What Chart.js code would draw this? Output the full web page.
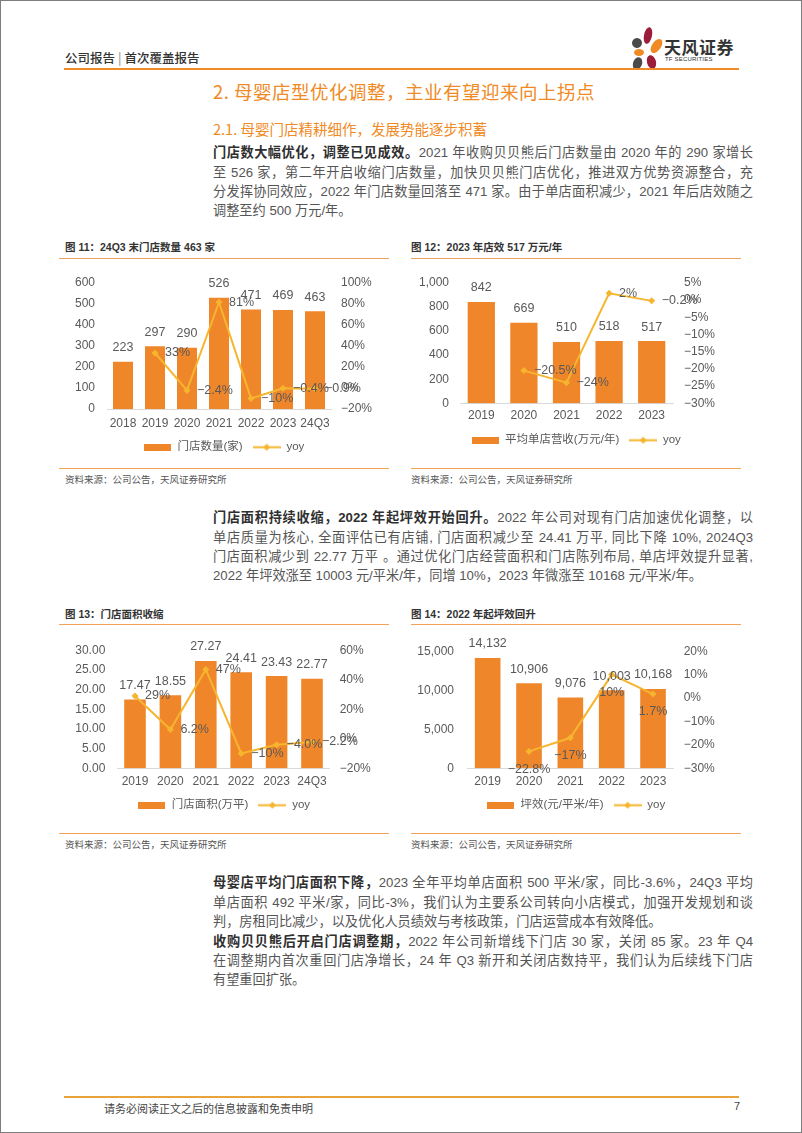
<!DOCTYPE html>
<html>
<head>
<meta charset="utf-8">
<script src="https://cdn.jsdelivr.net/npm/chart.js@4.4.1/dist/chart.umd.min.js"></script>
<style>
body { margin: 0; background: #fff; }
#page { position: relative; width: 800px; height: 1131px; border: 1px solid #7d7d7d; background: #fff; overflow: hidden;
        font-family: 'Liberation Sans', 'Noto Sans CJK SC', sans-serif; color: #4d4d4d; }
.abs { position: absolute; }
.line { position: absolute; left: 212px; width: 540px; height: 19px; line-height: 19px; font-size: 13.2px;
        text-align: justify; text-align-last: justify; white-space: nowrap; color: #555; }
.line.last { text-align-last: left; }
.line b { color: #2f2f2f; font-weight: bold; }
.ctitle { position: absolute; font-size: 10.5px; font-weight: bold; color: #333; white-space: nowrap; }
.rule { position: absolute; height: 0; border-top: 1.5px solid #f3a25a; }
.src { position: absolute; font-size: 9.5px; color: #555; white-space: nowrap; font-family: 'Noto Sans CJK SC', sans-serif; }
canvas { position: absolute; }
.petal { position: absolute; border-radius: 50%; }
</style>
</head>
<body>
<div id="page">
    <!-- header -->
    <div class="abs" style="left:64px;top:47px;font-size:12.5px;color:#333;font-family:'Noto Sans CJK SC';font-weight:500;">公司报告<span style="color:#999;margin:0 3px;">|</span>首次覆盖报告</div>
    <div class="petal" style="left:643px;top:26px;width:8px;height:17px;background:#9b1d3a;transform:rotate(12deg);"></div>
    <div class="petal" style="left:651px;top:37px;width:9px;height:16px;background:#f08a24;transform:rotate(35deg);"></div>
    <div class="petal" style="left:631px;top:37px;width:10px;height:10px;background:#4a4a4a;transform:rotate(-30deg);"></div>
    <div class="petal" style="left:633px;top:48px;width:10px;height:7px;background:#f08a24;"></div>
    <div class="petal" style="left:632px;top:56px;width:9px;height:13px;background:#4a4a4a;transform:rotate(20deg);"></div>
    <div class="petal" style="left:646px;top:54px;width:9px;height:14px;background:#9b1d3a;transform:rotate(-15deg);"></div>
    <div class="abs" style="left:663px;top:33px;font-size:17px;font-weight:bold;color:#333;font-family:'Noto Sans CJK SC';letter-spacing:0.5px;">天风证券</div>
    <div class="abs" style="left:664px;top:55px;font-size:6px;color:#333;font-family:'Liberation Sans';letter-spacing:0.2px;">TF SECURITIES</div>
    <div class="abs" style="left:63px;top:67px;width:675px;height:2px;background:#f08a24;"></div>

    <div class="abs" style="left:212px;top:77px;font-size:18.5px;color:#f08a24;font-family:'Noto Sans CJK SC';font-weight:400;white-space:nowrap;letter-spacing:0.5px;">2. 母婴店型优化调整，主业有望迎来向上拐点</div>
    <div class="abs" style="left:212px;top:117px;font-size:14.5px;color:#f08a24;font-family:'Noto Sans CJK SC';font-weight:400;white-space:nowrap;">2.1. 母婴门店精耕细作，发展势能逐步积蓄</div>

    <div class="line" style="top:142px;"><b>门店数大幅优化，调整已见成效。</b>2021 年收购贝贝熊后门店数量由 2020 年的 290 家增长</div>
    <div class="line" style="top:162px;">至 526 家，第二年开启收缩门店数量，加快贝贝熊门店优化，推进双方优势资源整合，充</div>
    <div class="line" style="top:181px;">分发挥协同效应，2022 年门店数量回落至 471 家。由于单店面积减少，2021 年后店效随之</div>
    <div class="line last" style="top:200px;">调整至约 500 万元/年。</div>

    <!-- figure 11 / 12 -->
    <div class="ctitle" style="left:64px;top:238px;">图 11：24Q3 末门店数量 463 家</div>
    <div class="ctitle" style="left:410px;top:238px;">图 12：2023 年店效 517 万元/年</div>
    <div class="rule" style="left:58px;top:257px;width:330px;"></div>
    <div class="rule" style="left:410px;top:257px;width:330px;"></div>
    <canvas id="chart11" width="330" height="200" style="left:58px;top:262px;"></canvas>
    <canvas id="chart12" width="330" height="193" style="left:410px;top:262px;"></canvas>
    <div class="rule" style="left:58px;top:467px;width:330px;"></div>
    <div class="rule" style="left:410px;top:467px;width:330px;"></div>
    <div class="src" style="left:64px;top:471px;">资料来源：公司公告，天风证券研究所</div>
    <div class="src" style="left:410px;top:471px;">资料来源：公司公告，天风证券研究所</div>

    <div class="line" style="top:507px;"><b>门店面积持续收缩，2022 年起坪效开始回升。</b>2022 年公司对现有门店加速优化调整，以</div>
    <div class="line" style="top:527px;">单店质量为核心, 全面评估已有店铺, 门店面积减少至 24.41 万平, 同比下降 10%, 2024Q3</div>
    <div class="line" style="top:546px;">门店面积减少到 22.77 万平 。通过优化门店经营面积和门店陈列布局, 单店坪效提升显著,</div>
    <div class="line last" style="top:565px;">2022 年坪效涨至 10003 元/平米/年，同增 10%，2023 年微涨至 10168 元/平米/年。</div>

    <!-- figure 13 / 14 -->
    <div class="ctitle" style="left:64px;top:605px;">图 13：门店面积收缩</div>
    <div class="ctitle" style="left:410px;top:605px;">图 14：2022 年起坪效回升</div>
    <div class="rule" style="left:58px;top:623px;width:330px;"></div>
    <div class="rule" style="left:410px;top:623px;width:330px;"></div>
    <canvas id="chart13" width="330" height="190" style="left:58px;top:630px;"></canvas>
    <canvas id="chart14" width="330" height="190" style="left:410px;top:630px;"></canvas>
    <div class="rule" style="left:58px;top:832px;width:330px;"></div>
    <div class="rule" style="left:410px;top:832px;width:330px;"></div>
    <div class="src" style="left:64px;top:836px;">资料来源：公司公告，天风证券研究所</div>
    <div class="src" style="left:410px;top:836px;">资料来源：公司公告，天风证券研究所</div>

    <div class="line" style="top:872px;"><b>母婴店平均门店面积下降，</b>2023 全年平均单店面积 500 平米/家，同比-3.6%，24Q3 平均</div>
    <div class="line" style="top:892px;">单店面积 492 平米/家，同比-3%，我们认为主要系公司转向小店模式，加强开发规划和谈</div>
    <div class="line last" style="top:911px;">判，房租同比减少，以及优化人员绩效与考核政策，门店运营成本有效降低。</div>
    <div class="line" style="top:931px;"><b>收购贝贝熊后开启门店调整期，</b>2022 年公司新增线下门店 30 家，关闭 85 家。23 年 Q4</div>
    <div class="line" style="top:950px;">在调整期内首次重回门店净增长，24 年 Q3 新开和关闭店数持平，我们认为后续线下门店</div>
    <div class="line last" style="top:969px;">有望重回扩张。</div>

    <!-- footer -->
    <div class="abs" style="left:63px;top:1095px;width:675px;height:2px;background:#e8a33a;"></div>
    <div class="abs" style="left:103px;top:1099px;font-size:11px;color:#444;font-family:'Noto Sans CJK SC';">请务必阅读正文之后的信息披露和免责申明</div>
    <div class="abs" style="left:733px;top:1099px;font-size:11px;color:#444;">7</div>
</div>

<script>
// figure 11
const labels11 = ['2018', '2019', '2020', '2021', '2022', '2023', '24Q3'];
const stores11 = [223, 297, 290, 526, 471, 469, 463];
const yoy11 = [null, 33, -2.4, 81, -10, -0.4, -0.9];
const yoyDigits11 = [0, 0, 1, 0, 0, 1, 1];

// figure 12
const labels12 = ['2019', '2020', '2021', '2022', '2023'];
const revenue12 = [842, 669, 510, 518, 517];
const yoy12 = [null, -20.5, -24, 2, -0.2];
const yoyDigits12 = [0, 1, 0, 0, 1];

// figure 13
const labels13 = ['2019', '2020', '2021', '2022', '2023', '24Q3'];
const area13 = [17.47, 18.55, 27.27, 24.41, 23.43, 22.77];
const yoy13 = [29, 6.2, 47, -10, -4.0, -2.2];
const yoyDigits13 = [0, 1, 0, 0, 1, 1];

// figure 14
const labels14 = ['2019', '2020', '2021', '2022', '2023'];
const sales14 = [14132, 10906, 9076, 10003, 10168];
const yoy14 = [null, -22.8, -17, 10, 1.7];
const yoyDigits14 = [0, 1, 0, 0, 1];

const BAR_COLOR = '#f0862a';
const LINE_COLOR = '#f6b52e';
const TEXT_COLOR = '#595959';
const FONT_FAMILY = "'Liberation Sans', 'Noto Sans CJK SC', sans-serif";

let _label_registry = {};

function fmtNum(v, digits) {
    return v.toLocaleString('en-US', {minimumFractionDigits: digits, maximumFractionDigits: digits});
}

function fmtPct(v, digits) {
    let s = Math.abs(v).toFixed(digits) + '%';
    return (v < 0 ? '\u2212' : '') + s;
}

// data labels, Excel style: bar values on top, yoy to the right (or below)
const valueLabels = {
    id: 'valueLabels',
    afterDatasetsDraw(chart) {
        let cfg = _label_registry[chart.canvas.id];
        if (cfg === undefined) return;
        let ctx = chart.ctx;
        ctx.save();
        ctx.font = '12.5px ' + FONT_FAMILY;
        ctx.fillStyle = TEXT_COLOR;
        ctx.textBaseline = 'middle';
        chart.data.datasets.forEach((ds, di) => {
            let meta = chart.getDatasetMeta(di);
            meta.data.forEach((el, i) => {
                let v = ds.data[i];
                if (v === null) return;
                if (ds.type === 'bar') {
                    ctx.textAlign = 'center';
                    ctx.fillText(fmtNum(v, cfg.barDigits), el.x, el.y - 14);
                } else if (cfg.linePos === 'below') {
                    ctx.textAlign = 'center';
                    ctx.fillText(fmtPct(v, cfg.yoyDigits[i]), el.x, el.y + 18);
                } else {
                    ctx.textAlign = 'left';
                    ctx.fillText(fmtPct(v, cfg.yoyDigits[i]), el.x + 10, el.y);
                }
            });
        });
        ctx.restore();
    }
};

function swatch(w, h, draw) {
    let c = document.createElement('canvas');
    c.width = w;
    c.height = h;
    draw(c.getContext('2d'));
    return c;
}

const barSwatch = swatch(27, 7, (g) => {
    g.fillStyle = BAR_COLOR;
    g.fillRect(0, 0, 27, 7);
});

const lineSwatch = swatch(28, 9, (g) => {
    g.strokeStyle = LINE_COLOR;
    g.lineWidth = 2;
    g.beginPath();
    g.moveTo(0, 4.5);
    g.lineTo(28, 4.5);
    g.stroke();
    g.fillStyle = LINE_COLOR;
    g.beginPath();
    g.moveTo(14, 1);
    g.lineTo(17.5, 4.5);
    g.lineTo(14, 8);
    g.lineTo(10.5, 4.5);
    g.closePath();
    g.fill();
});

function makeComboChart(id, o) {
    let ctx = document.getElementById(id).getContext('2d');
    _label_registry[id] = {barDigits: o.barDigits, yoyDigits: o.yoyDigits, linePos: o.linePos};
    let tickFont = {family: FONT_FAMILY, size: 12};
    let chart = new Chart(ctx, {
        data: {
            labels: o.labels,
            datasets: [{
                type: 'bar',
                label: o.barLabel,
                data: o.bars,
                backgroundColor: BAR_COLOR,
                categoryPercentage: 1,
                barPercentage: o.barPct,
                yAxisID: 'y',
                order: 1
            }, {
                type: 'line',
                label: 'yoy',
                data: o.yoy,
                borderColor: LINE_COLOR,
                backgroundColor: LINE_COLOR,
                borderWidth: 2,
                pointStyle: 'rectRot',
                pointRadius: 3.5,
                pointBorderWidth: 0,
                pointBackgroundColor: LINE_COLOR,
                tension: 0,
                yAxisID: 'y1',
                order: 0
            }]
        },
        options: {
            responsive: false,
            animation: false,
            layout: {padding: {top: o.padTop, left: 0, right: 0, bottom: 0}},
            plugins: {
                tooltip: {enabled: false},
                legend: {
                    position: 'bottom',
                    labels: {
                        usePointStyle: true,
                        pointStyleWidth: 28,
                        padding: 10,
                        color: TEXT_COLOR,
                        font: {family: FONT_FAMILY, size: 11.5},
                        generateLabels: () => [
                            {text: o.barLabel, pointStyle: barSwatch, fillStyle: BAR_COLOR, lineWidth: 0, strokeStyle: 'rgba(0,0,0,0)', fontColor: TEXT_COLOR, datasetIndex: 0},
                            {text: 'yoy', pointStyle: lineSwatch, fillStyle: LINE_COLOR, lineWidth: 0, strokeStyle: 'rgba(0,0,0,0)', fontColor: TEXT_COLOR, datasetIndex: 1}
                        ]
                    }
                }
            },
            scales: {
                x: {
                    offset: true,
                    grid: {display: false, drawTicks: false},
                    border: {display: true, color: '#d9d9d9', width: 1},
                    ticks: {color: TEXT_COLOR, font: tickFont, padding: o.xPad, maxRotation: 0, autoSkip: false},
                    afterFit: (s) => { s.height = o.xHeight; }
                },
                y: {
                    position: 'left',
                    min: o.yMin, max: o.yMax,
                    ticks: {stepSize: o.yStep, autoSkip: false, color: TEXT_COLOR, font: tickFont, padding: o.yPad,
                            callback: (v) => fmtNum(v, o.yDigits)},
                    grid: {display: false, drawTicks: false},
                    border: {display: false},
                    afterFit: (s) => { s.width = o.leftW; }
                },
                y1: {
                    position: 'right',
                    min: o.rMin, max: o.rMax,
                    ticks: {stepSize: o.rStep, autoSkip: false, color: TEXT_COLOR, font: tickFont, padding: o.rPad,
                            callback: (v) => fmtPct(v, 0)},
                    grid: {display: false, drawTicks: false},
                    border: {display: false},
                    afterFit: (s) => { s.width = o.rightW; }
                }
            }
        },
        plugins: [valueLabels]
    });
    return chart;
}

makeComboChart('chart11', {
    labels: labels11, bars: stores11, yoy: yoy11, yoyDigits: yoyDigits11,
    barLabel: '门店数量(家)', barDigits: 0, barPct: 0.625, linePos: 'right',
    yMin: 0, yMax: 600, yStep: 100, yDigits: 0,
    rMin: -20, rMax: 100, rStep: 20,
    padTop: 12, leftW: 48, rightW: 58, xHeight: 22.5, xPad: 7, yPad: 12, rPad: 10
});

makeComboChart('chart12', {
    labels: labels12, bars: revenue12, yoy: yoy12, yoyDigits: yoyDigits12,
    barLabel: '平均单店营收(万元/年)', barDigits: 0, barPct: 0.64, linePos: 'right',
    yMin: 0, yMax: 1000, yStep: 200, yDigits: 0,
    rMin: -30, rMax: 5, rStep: 5,
    padTop: 20, leftW: 49, rightW: 68, xHeight: 21.25, xPad: 5, yPad: 11, rPad: 11
});

makeComboChart('chart13', {
    labels: labels13, bars: area13, yoy: yoy13, yoyDigits: yoyDigits13,
    barLabel: '门店面积(万平)', barDigits: 2, barPct: 0.61, linePos: 'right',
    yMin: 0, yMax: 30, yStep: 5, yDigits: 2,
    rMin: -20, rMax: 60, rStep: 20,
    padTop: 18, leftW: 58.3, rightW: 59.3, xHeight: 21.25, xPad: 6, yPad: 12, rPad: 10
});

makeComboChart('chart14', {
    labels: labels14, bars: sales14, yoy: yoy14, yoyDigits: yoyDigits14,
    barLabel: '坪效(元/平米/年)', barDigits: 0, barPct: 0.62, linePos: 'below',
    yMin: 0, yMax: 15000, yStep: 5000, yDigits: 0,
    rMin: -30, rMax: 20, rStep: 10,
    padTop: 17, leftW: 56, rightW: 67.3, xHeight: 21.25, xPad: 6, yPad: 13, rPad: 10
});
</script>
</body>
</html>
